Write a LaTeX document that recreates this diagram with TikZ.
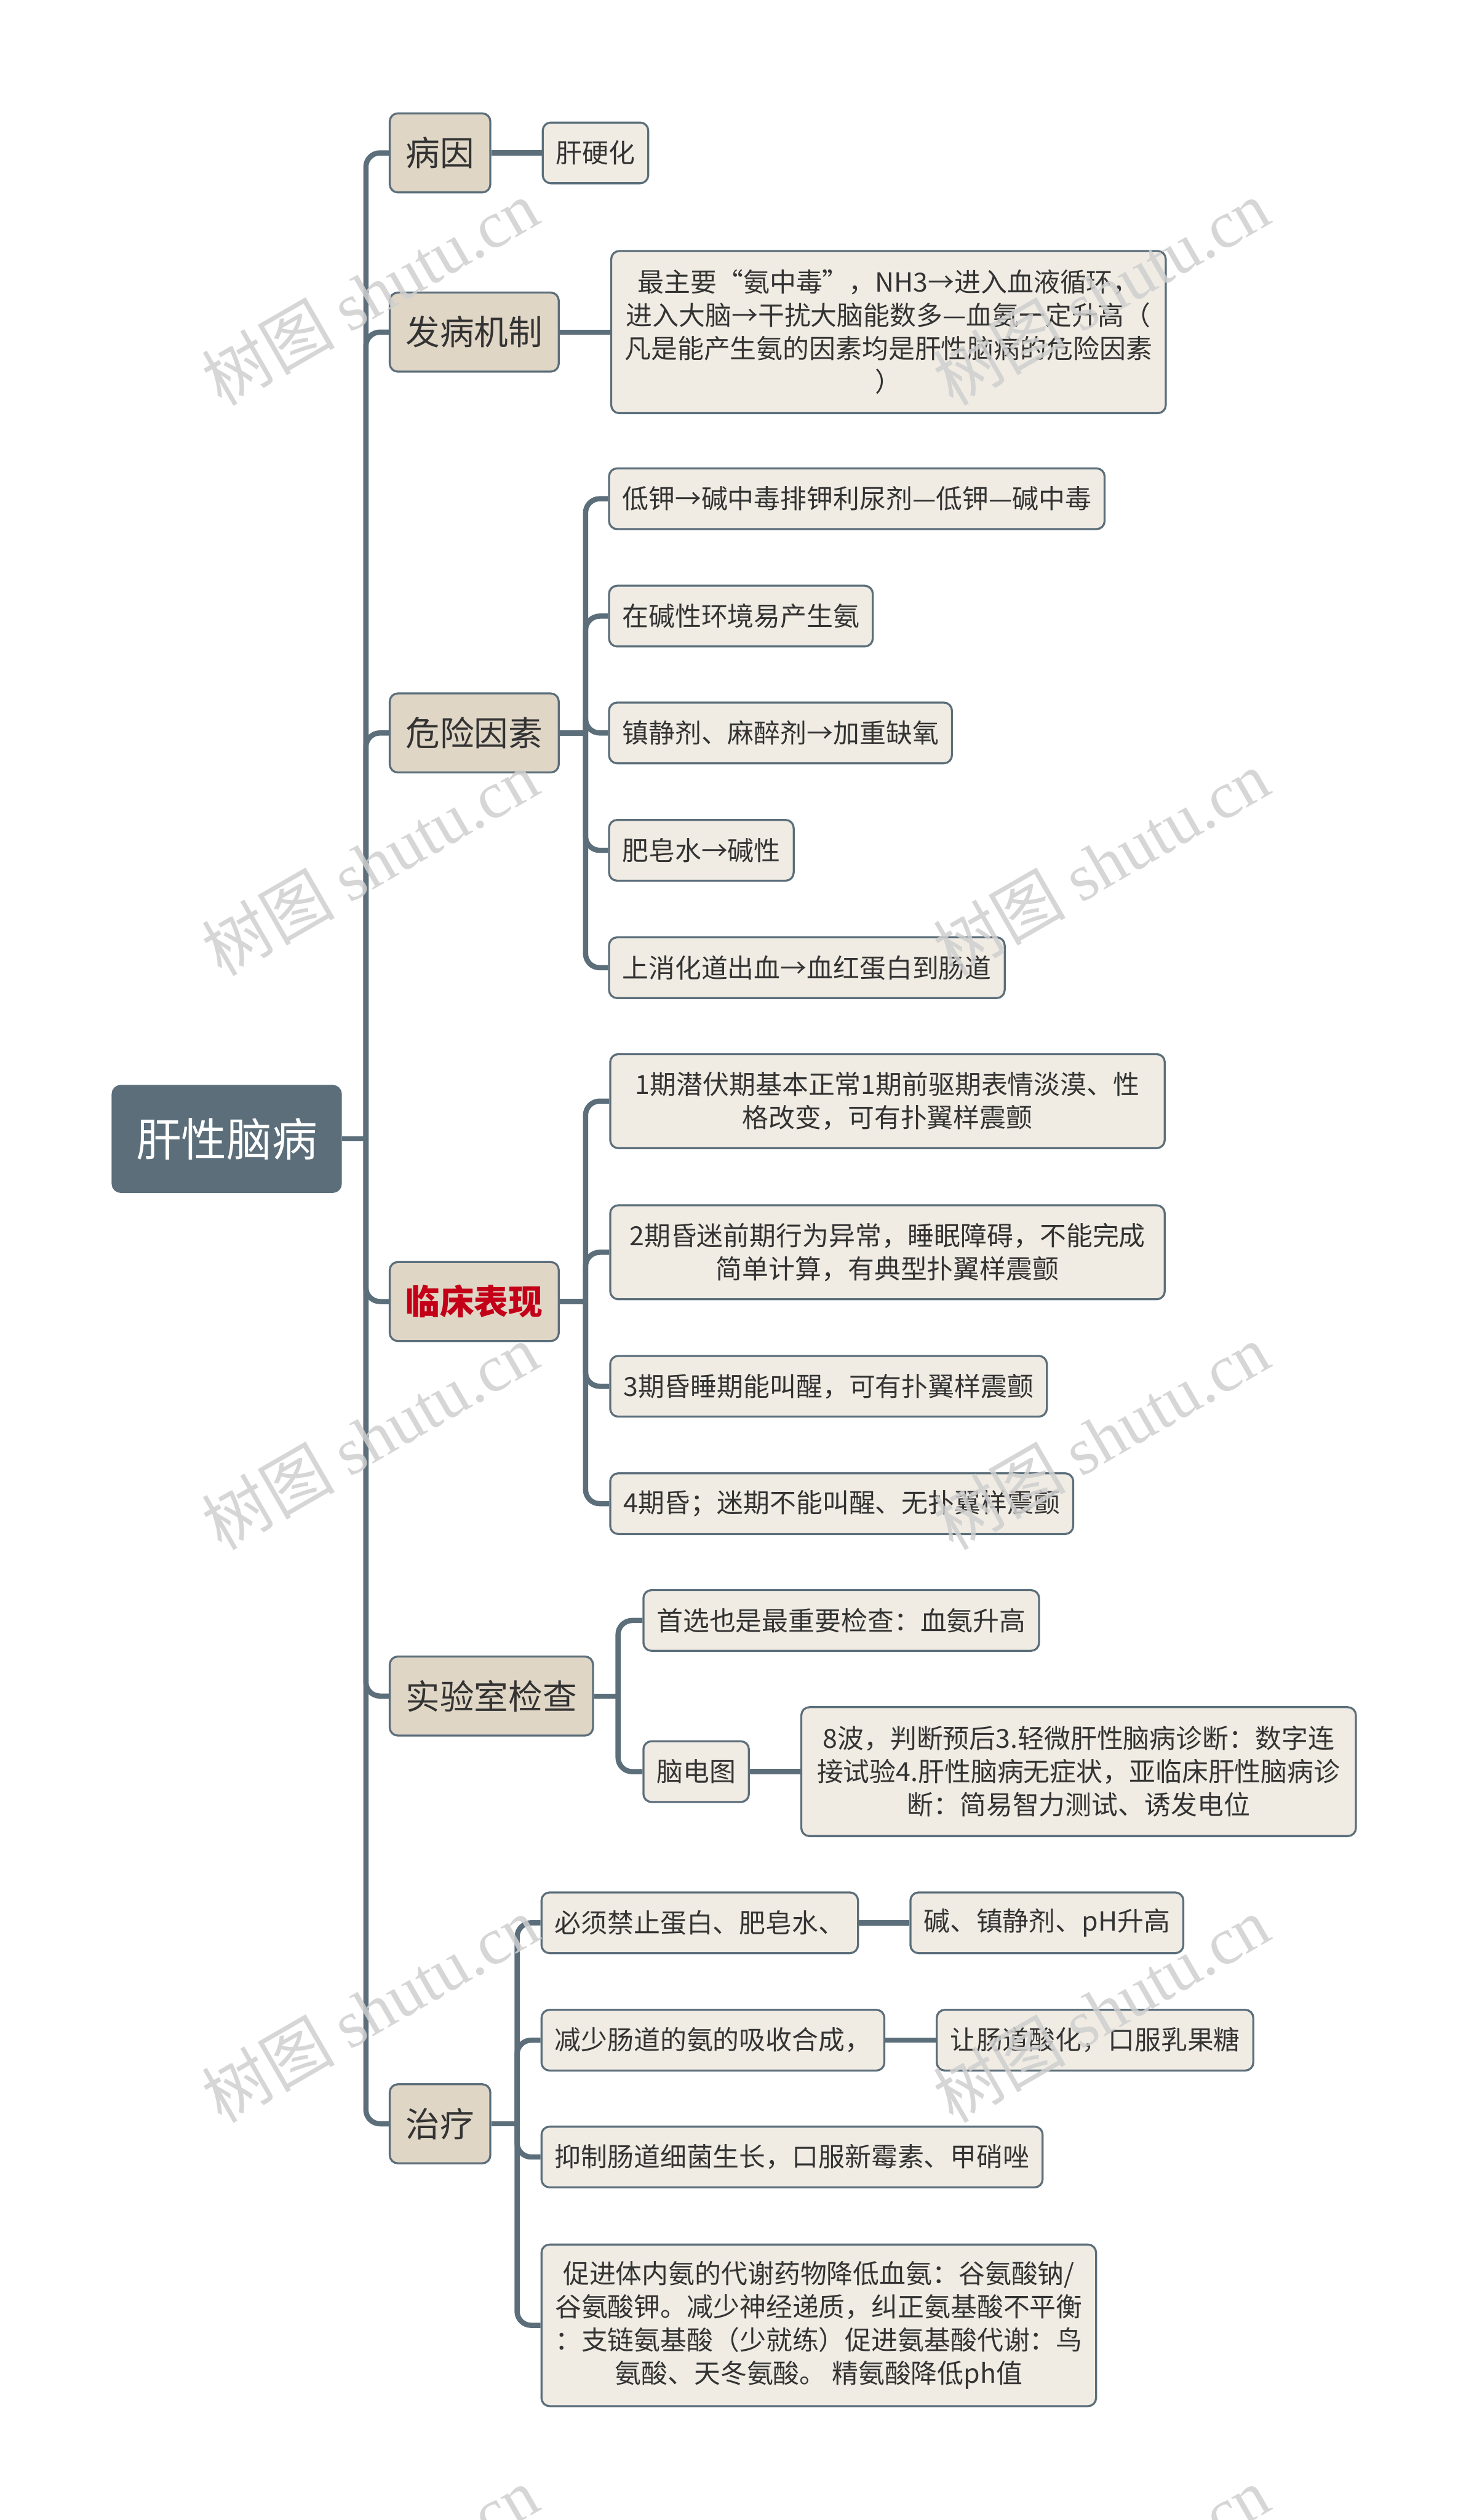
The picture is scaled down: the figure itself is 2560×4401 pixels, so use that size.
\documentclass[tikz,border=0pt]{standalone}
\usepackage{fontspec}
\setmainfont{Noto Sans CJK SC}
\newfontfamily\wmfont{Liberation Serif}
\usepackage{tikz}
\usetikzlibrary{positioning}
\definecolor{linec}{HTML}{5B6E7A}
\definecolor{topicbg}{HTML}{E0D6C6}
\definecolor{leafbg}{HTML}{F0ECE4}
\definecolor{inktext}{HTML}{333333}
\definecolor{alertred}{HTML}{C40018}
\definecolor{wmgray}{HTML}{CFCFCF}

\begin{document}
\begin{tikzpicture}[x=0.01cm, y=-0.01cm,
every node/.style = {shape=rectangle, rounded corners=4pt, line width=1pt,
  draw=linec, text=inktext, align=center, inner ysep=0pt},
rootbox/.style = {fill=linec, text=white, inner xsep=0.41cm, minimum height=1.85cm,
  font=\fontsize{22.5pt}{27pt}\selectfont},
topic/.style = {fill=topicbg, inner xsep=0.28cm, minimum height=1.38cm, anchor=west,
  font=\fontsize{17pt}{20pt}\selectfont},
leaf/.style = {fill=leafbg, inner xsep=0.23cm, minimum height=1.06cm, anchor=west,
  font=\fontsize{13.1pt}{16.5pt}\selectfont},
wide/.style = {minimum width=9.68cm},
conn/.style = {draw=linec, line width=2.6pt, rounded corners=7pt},
wmark/.style = {draw=none, rounded corners=0pt, text=wmgray, rotate=30,
  font=\fontsize{33pt}{33pt}\selectfont, opacity=0.85},
node distance=0.88cm
]
\useasboundingbox (0,0) rectangle (2560,4401);

\node[rootbox] (root) at (396,1989) {肝性脑病};
\coordinate[right=0.42cm of root] (trunk);

% main topics
\node[topic] (bingyin) at (679,267) {病因};
\node[topic] (jizhi) at (679,580) {发病机制};
\node[topic] (weixian) at (679,1280) {危险因素};
\node[topic, text=alertred, font=\bfseries\fontsize{17pt}{20pt}\selectfont]
  (linchuang) at (679,2273) {临床表现};
\node[topic] (shiyan) at (679,2962) {实验室检查};
\node[topic] (zhiliao) at (679,3709) {治疗};

\node[leaf, right=of bingyin] (yinghua) {肝硬化};
\node[leaf, wide, minimum height=2.83cm, right=of jizhi] (jizhi1)
  {最主要“氨中毒”，NH3→进入血液循环，\\进入大脑→干扰大脑能数多—血氨一定升高（\\凡是能产生氨的因素均是肝性脑病的危险因素\\）};

\node[leaf] (wx1) at (1062,871) {低钾→碱中毒排钾利尿剂—低钾—碱中毒};
\node[leaf] (wx2) at (1062,1076) {在碱性环境易产生氨};
\node[leaf] (wx3) at (1062,1280) {镇静剂、麻醉剂→加重缺氧};
\node[leaf] (wx4) at (1062,1485) {肥皂水→碱性};
\node[leaf] (wx5) at (1062,1690) {上消化道出血→血红蛋白到肠道};

\node[leaf, wide, minimum height=1.64cm] (lc1) at (1064,1923)
  {1期潜伏期基本正常1期前驱期表情淡漠、性\\格改变，可有扑翼样震颤};
\node[leaf, wide, minimum height=1.64cm] (lc2) at (1064,2187)
  {2期昏迷前期行为异常，睡眠障碍，不能完成\\简单计算，有典型扑翼样震颤};
\node[leaf] (lc3) at (1064,2421) {3期昏睡期能叫醒，可有扑翼样震颤};
\node[leaf] (lc4) at (1064,2626) {4期昏；迷期不能叫醒、无扑翼样震颤};

\node[leaf] (sy1) at (1122,2830) {首选也是最重要检查：血氨升高};
\node[leaf] (sy2) at (1122,3094) {脑电图};
\node[leaf, wide, minimum height=2.25cm, right=of sy2] (sy3)
  {8波，判断预后3.轻微肝性脑病诊断：数字连\\接试验4.肝性脑病无症状，亚临床肝性脑病诊\\断：简易智力测试、诱发电位};

\node[leaf] (zl1) at (944,3358) {必须禁止蛋白、肥皂水、};
\node[leaf, right=of zl1] (zl1a) {碱、镇静剂、pH升高};
\node[leaf] (zl2) at (944,3563) {减少肠道的氨的吸收合成，};
\node[leaf, right=of zl2] (zl2a) {让肠道酸化，口服乳果糖};
\node[leaf] (zl3) at (944,3767) {抑制肠道细菌生长，口服新霉素、甲硝唑};
\node[leaf, wide, minimum height=2.82cm] (zl4) at (944,4061)
  {促进体内氨的代谢药物降低血氨：谷氨酸钠/\\谷氨酸钾。减少神经递质，纠正氨基酸不平衡\\：支链氨基酸（少就练）促进氨基酸代谢：鸟\\氨酸、天冬氨酸。 精氨酸降低ph值};

\coordinate[right=0.45cm of weixian] (wxfork);
\coordinate[right=0.45cm of linchuang] (lcfork);
\coordinate[right=0.42cm of shiyan] (syfork);
\coordinate[right=0.45cm of zhiliao] (zlfork);

% connectors
\draw[conn] (root) -- (trunk);
\foreach \t in {bingyin,jizhi,weixian,linchuang,shiyan,zhiliao}
  \draw[conn] (trunk) |- (\t.west);
\draw[conn] (bingyin) -- (yinghua);
\draw[conn] (jizhi) -- (jizhi1);
\draw[conn] (weixian) -- (wxfork);
\foreach \c in {wx1,wx2,wx3,wx4,wx5}
  \draw[conn] (wxfork) |- (\c.west);
\draw[conn] (linchuang) -- (lcfork);
\foreach \c in {lc1,lc2,lc3,lc4}
  \draw[conn] (lcfork) |- (\c.west);
\draw[conn] (shiyan) -- (syfork);
\foreach \c in {sy1,sy2}
  \draw[conn] (syfork) |- (\c.west);
\draw[conn] (sy2) -- (sy3);
\draw[conn] (zhiliao) -- (zlfork);
\foreach \c in {zl1,zl2,zl3,zl4}
  \draw[conn] (zlfork) |- (\c.west);
\draw[conn] (zl1) -- (zl1a);
\draw[conn] (zl2) -- (zl2a);

% watermark
\begin{scope}
\clip (0,0) rectangle (2560,4401);
\foreach \x in {646,1923}
  \foreach \y in {511,1507,2509,3509,4505}
    \node[wmark] (wm-\x-\y) at (\x,\y) {树图 {\wmfont shutu.cn}};
\end{scope}
\end{tikzpicture}
\end{document}
